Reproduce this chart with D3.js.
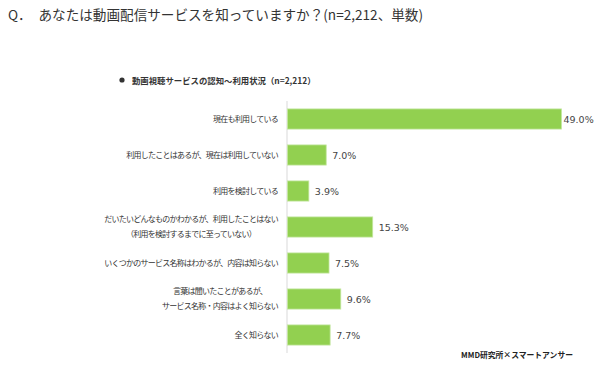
<!DOCTYPE html>
<html><head><meta charset="utf-8">
<script src="https://cdn.jsdelivr.net/npm/d3@7"></script>
<style>body{margin:0;background:#fff;}svg{display:block;}</style>
</head><body>
<svg id="c" width="600" height="368"></svg>
<script>
const categories = [
  ["現在も利用している"],
  ["利用したことはあるが、現在は利用していない"],
  ["利用を検討している"],
  ["だいたいどんなものかわかるが、利用したことはない", "（利用を検討するまでに至っていない）"],
  ["いくつかのサービス名称はわかるが、内容は知らない"],
  ["言葉は聞いたことがあるが、", "サービス名称・内容はよく知らない"],
  ["全く知らない"]
];
const values = [49.0, 7.0, 3.9, 15.3, 7.5, 9.6, 7.7];
const titleText = "Q．　あなたは動画配信サービスを知っていますか？(n=2,212、単数)";
const subtitleText = "動画視聴サービスの認知～利用状況（n=2,212）";
const sourceText = "MMD研究所×スマートアンサー";

const svg = d3.select("#c");
const font = "'Noto Sans CJK JP', 'Noto Sans', sans-serif";

svg.append("text").attr("x", 8).attr("y", 20)
  .attr("font-family", font).attr("font-size", 13.6).attr("fill", "#333")
  .text(titleText);

svg.append("circle").attr("cx", 122).attr("cy", 80).attr("r", 2.6).attr("fill", "#333");
svg.append("text").attr("x", 132).attr("y", 83.5)
  .attr("font-family", font).attr("font-size", 8.4).attr("font-weight", "bold").attr("fill", "#333")
  .text(subtitleText);

const x0 = 287;
const x = d3.scaleLinear().domain([0, 49]).range([x0, 561.5]);
const y = d3.scaleBand().domain(d3.range(values.length)).range([101, 353]).paddingInner(0.44).paddingOuter(0.22);

svg.append("line").attr("x1", x0).attr("x2", x0).attr("y1", 101).attr("y2", 353)
  .attr("stroke", "#d9d9d9").attr("stroke-width", 1);

const g = svg.append("g");
g.selectAll("rect").data(values).join("rect")
  .attr("x", x0 + 0.5)
  .attr("y", (d, i) => y(i))
  .attr("width", d => x(d) - x0 - 0.5)
  .attr("height", y.bandwidth())
  .attr("fill", "#92d050")
  .attr("stroke", "#c4e6a0").attr("stroke-width", 0.8);

g.selectAll("text.val").data(values).join("text").attr("class", "val")
  .attr("x", d => Math.min(x(d) + 6, 563.5))
  .attr("y", (d, i) => y(i) + y.bandwidth() / 2 + 3.5)
  .attr("font-family", "Verdana, 'DejaVu Sans', sans-serif").attr("font-size", 9.5).attr("fill", "#444")
  .text(d => d.toFixed(1) + "%");

const labelRight = 278;
categories.forEach((lines, i) => {
  const cy = y(i) + y.bandwidth() / 2;
  const lh = 15;
  const tspans = lines.map((ln, j) => svg.append("text")
    .attr("font-family", font).attr("font-size", 8).attr("letter-spacing", -0.75).attr("fill", "#333")
    .attr("y", cy + 2.9 + (j - (lines.length - 1) / 2) * lh)
    .text(ln));
  const maxW = d3.max(tspans, t => t.node().getComputedTextLength());
  const center = labelRight - maxW / 2;
  tspans.forEach(t => t.attr("text-anchor", "middle").attr("x", center));
});

svg.append("text").attr("x", 573).attr("y", 358).attr("text-anchor", "end")
  .attr("font-family", font).attr("font-size", 7.8).attr("font-weight", "bold").attr("fill", "#222")
  .text(sourceText);
</script>
</body></html>
